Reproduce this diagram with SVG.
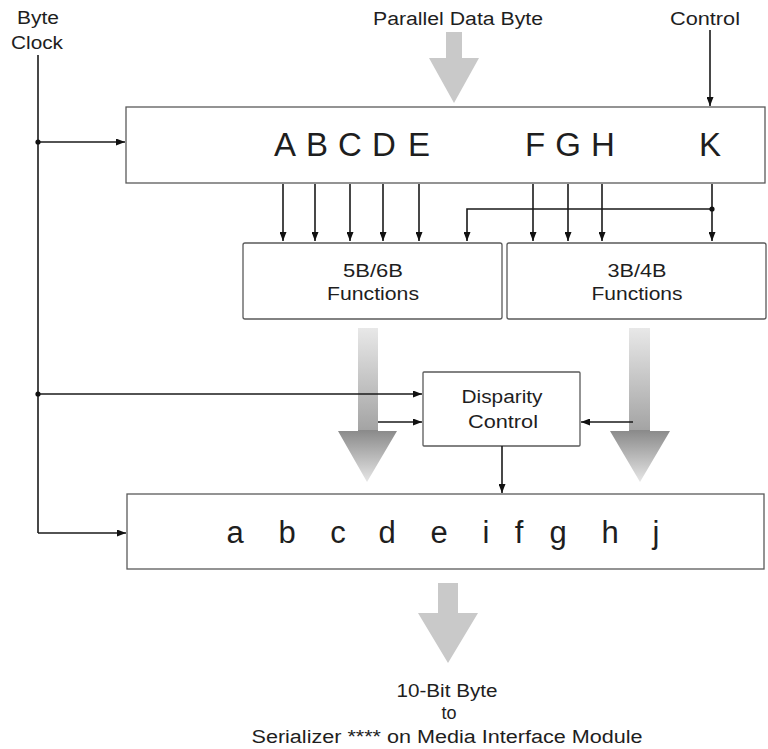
<svg xmlns="http://www.w3.org/2000/svg" width="768" height="749" viewBox="0 0 768 749">
<style>
text{font-family:"Liberation Sans",Arial,sans-serif;fill:#1e1e1e}
.lbl{font-size:18px;text-anchor:middle}
.big{font-size:33px;text-anchor:middle}
.sm{font-size:31px;text-anchor:middle}
.box{fill:#fff;stroke:#5a5a5a;stroke-width:1.3}
.shadow{fill:none;stroke:url(#edge);stroke-width:3}
.wire{fill:none;stroke:#1a1a1a;stroke-width:1.6}
.arr{marker-end:url(#ah)}
.dot{fill:#111}
.flat{fill:#c9c9c9}
.grad{fill:url(#fade)}
</style>
<defs>
<marker id="ah" markerUnits="userSpaceOnUse" markerWidth="9" markerHeight="7" refX="9" refY="3.5" orient="auto">
<path d="M0,0 L9,3.5 L0,7 z" fill="#111"/>
</marker>
<linearGradient id="edge" x1="0" y1="0" x2="1" y2="0">
<stop offset="0" stop-color="#333"/>
<stop offset="0.6" stop-color="#555"/>
<stop offset="1" stop-color="#888"/>
</linearGradient>
<linearGradient id="fade" gradientUnits="userSpaceOnUse" x1="0" y1="328" x2="0" y2="482">
<stop offset="0" stop-color="#e8e8e8"/>
<stop offset="0.66" stop-color="#a4a4a4"/>
<stop offset="0.665" stop-color="#8a8a8a"/>
<stop offset="1" stop-color="#e6e6e6"/>
</linearGradient>
</defs>

<g id="labels">
<text class="lbl" x="38" y="24" textLength="42" lengthAdjust="spacingAndGlyphs">Byte</text>
<text class="lbl" x="37" y="49" textLength="52" lengthAdjust="spacingAndGlyphs">Clock</text>
<text class="lbl" x="458" y="25" textLength="170" lengthAdjust="spacingAndGlyphs">Parallel Data Byte</text>
<text class="lbl" x="705" y="25" textLength="70" lengthAdjust="spacingAndGlyphs">Control</text>
</g>

<g id="flow-arrows">
<polygon class="flat" points="446,32 462,32 462,58 479,58 454,103 429,58 446,58"/>
<polygon class="grad" points="358,328 378,328 378,431 397,431 367,482 338,431 358,431"/>
<polygon class="grad" points="629,328 650,328 650,431 670,431 640,482 610,431 629,431"/>
<polygon class="flat" points="438,583 458,583 458,613 478,613 448,663 418,613 438,613"/>
</g>

<g id="input-register">
<rect class="box" x="126" y="107" width="639" height="76"/>
<line class="shadow" x1="127" y1="183" x2="765" y2="183"/>
<text class="big" x="285" y="156">A</text>
<text class="big" x="317" y="156">B</text>
<text class="big" x="350" y="156">C</text>
<text class="big" x="384" y="156">D</text>
<text class="big" x="419" y="156">E</text>
<text class="big" x="535" y="156">F</text>
<text class="big" x="568" y="156">G</text>
<text class="big" x="603" y="156">H</text>
<text class="big" x="710" y="156">K</text>
</g>

<g id="f5b6b">
<rect class="box" x="243" y="243" width="259" height="76" rx="2"/>
<line class="shadow" x1="244" y1="319" x2="502" y2="319"/>
<text class="lbl" x="373" y="277" textLength="60" lengthAdjust="spacingAndGlyphs">5B/6B</text>
<text class="lbl" x="373" y="300" textLength="92" lengthAdjust="spacingAndGlyphs">Functions</text>
</g>

<g id="f3b4b">
<rect class="box" x="507" y="243" width="259" height="76" rx="2"/>
<line class="shadow" x1="508" y1="319" x2="766" y2="319"/>
<text class="lbl" x="637" y="277" textLength="59" lengthAdjust="spacingAndGlyphs">3B/4B</text>
<text class="lbl" x="637" y="300" textLength="91" lengthAdjust="spacingAndGlyphs">Functions</text>
</g>

<g id="disparity">
<rect class="box" x="423" y="372" width="157" height="74" rx="1"/>
<line class="shadow" x1="424" y1="446" x2="580" y2="446"/>
<text class="lbl" x="502" y="403" textLength="81" lengthAdjust="spacingAndGlyphs">Disparity</text>
<text class="lbl" x="503" y="428" textLength="70" lengthAdjust="spacingAndGlyphs">Control</text>
</g>

<g id="output-register">
<rect class="box" x="127" y="494" width="637" height="75"/>
<line class="shadow" x1="128" y1="494" x2="764" y2="494" stroke-width="2.5"/>
<line class="shadow" x1="128" y1="569" x2="764" y2="569" stroke-width="2"/>
<text class="sm" x="235" y="543">a</text>
<text class="sm" x="287" y="543">b</text>
<text class="sm" x="338" y="543">c</text>
<text class="sm" x="387" y="543">d</text>
<text class="sm" x="439" y="543">e</text>
<text class="sm" x="486" y="543">i</text>
<text class="sm" x="519" y="543">f</text>
<text class="sm" x="558" y="543">g</text>
<text class="sm" x="610" y="543">h</text>
<text class="sm" x="656" y="543">j</text>
</g>

<g id="output-label">
<text class="lbl" x="447" y="697" textLength="101" lengthAdjust="spacingAndGlyphs">10-Bit Byte</text>
<text class="lbl" x="449" y="719">to</text>
<text class="lbl" x="447" y="743" textLength="391" lengthAdjust="spacingAndGlyphs">Serializer **** on Media Interface Module</text>
</g>

<g id="connectors">
<path class="wire" d="M38,55 V533"/>
<path class="wire arr" d="M38,533 H126"/>
<path class="wire arr" d="M38,142 H125"/>
<path class="wire arr" d="M38,394 H422"/>
<path class="wire arr" d="M378,422 H422"/>
<path class="wire arr" d="M633,422 H581"/>
<path class="wire arr" d="M502,446 V493"/>
<path class="wire arr" d="M710,30 V106"/>
<path class="wire arr" d="M283,184 V241"/>
<path class="wire arr" d="M315,184 V241"/>
<path class="wire arr" d="M350,184 V241"/>
<path class="wire arr" d="M383,184 V241"/>
<path class="wire arr" d="M419,184 V241"/>
<path class="wire arr" d="M533,184 V241"/>
<path class="wire arr" d="M568,184 V241"/>
<path class="wire arr" d="M602,184 V241"/>
<path class="wire arr" d="M712,184 V241"/>
<path class="wire arr" d="M712,209 H467 V241"/>
<circle class="dot" cx="38" cy="142" r="2.6"/>
<circle class="dot" cx="38" cy="394" r="2.6"/>
<circle class="dot" cx="712" cy="209" r="2.6"/>
</g>
</svg>
